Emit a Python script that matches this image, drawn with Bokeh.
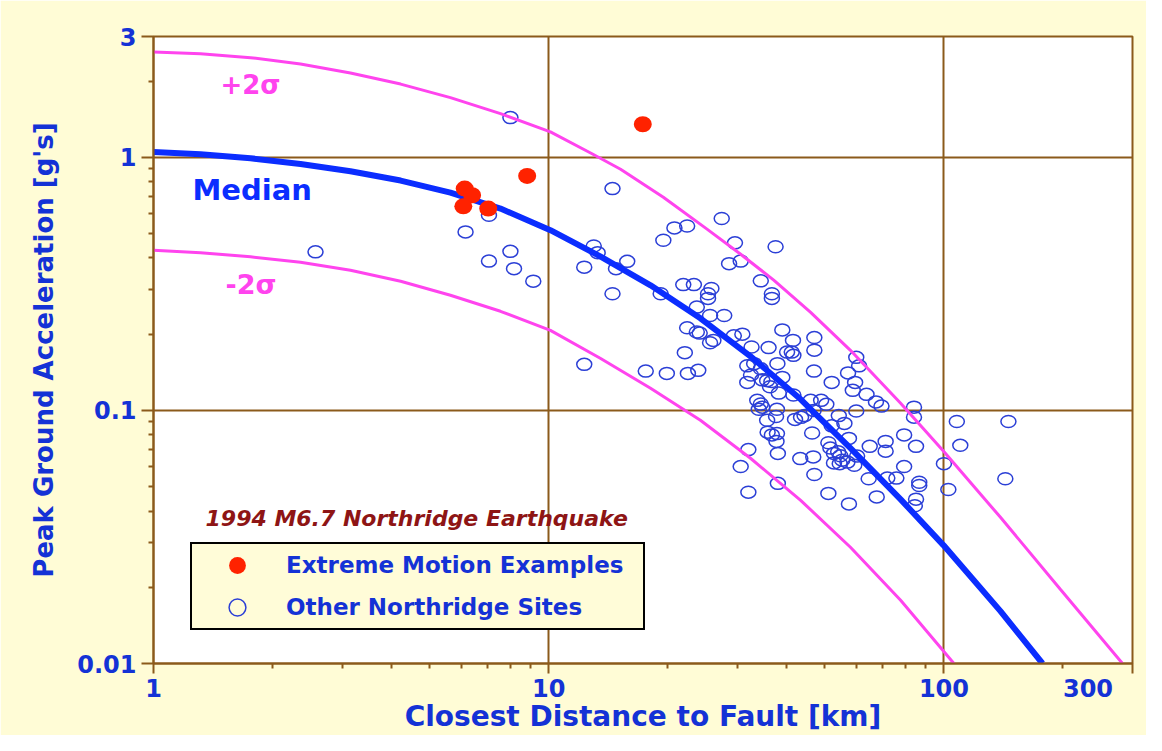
from bokeh.plotting import figure
from bokeh.models import (FixedTicker, Label, Legend, LegendItem,
                          CustomJSTickFormatter)
from bokeh.embed import file_html
from bokeh.resources import INLINE

# ---------------- data ----------------
median_dist = [1.0, 1.315, 1.76, 2.355, 3.15, 4.22, 5.64, 7.55, 10.1, 13.5, 18.1,
               24.2, 32.4, 43.4, 58.0, 77.7, 99.8, 139, 177.6]
median_pga = [1.049, 1.028, 0.991, 0.941, 0.88, 0.809, 0.725, 0.627, 0.515, 0.406, 0.312,
              0.231, 0.1636, 0.1106, 0.0709, 0.0445, 0.0293, 0.0161, 0.010]

plus2_dist = [1.0, 1.315, 1.76, 2.355, 3.15, 4.22, 5.64, 7.55, 10.1, 12.8, 15.2, 19.5,
              25.2, 30.6, 37.1, 46.0, 58.0, 77.7, 99.8, 139, 197, 283]
plus2_pga = [2.606, 2.567, 2.475, 2.334, 2.153, 1.946, 1.72, 1.488, 1.259, 1.037, 0.897, 0.695,
             0.519, 0.414, 0.327, 0.244, 0.1727, 0.1067, 0.0689, 0.0378, 0.01964, 0.010]

minus2_dist = [1.0, 1.315, 1.76, 2.355, 3.15, 4.22, 5.64, 7.55, 10.1, 13.5, 18.1,
               24.2, 32.4, 43.4, 58.0, 77.7, 106]
minus2_pga = [0.429, 0.4195, 0.4044, 0.3847, 0.358, 0.3236, 0.285, 0.2463, 0.207, 0.1606, 0.1223,
              0.0914, 0.0647, 0.0441, 0.0288, 0.01777, 0.010]

extreme_dist = [17.3, 8.82, 6.13, 6.40, 6.08, 7.03]
extreme_pga = [1.35, 0.844, 0.752, 0.708, 0.640, 0.627]

other_dist = [
    2.57, 6.16, 7.06, 8.0, 8.0, 7.06, 8.17, 9.14,
    14.5, 13.0, 13.3, 12.3, 15.8, 14.8, 14.5, 19.2, 19.5, 20.8, 22.4, 21.9, 23.3,
    27.4, 29.6, 28.6, 30.6, 37.5, 34.4, 36.7, 36.7, 25.8, 25.3, 25.3,
    23.7, 25.6, 27.8, 22.4, 23.7, 24.1, 25.6, 26.1, 29.4, 30.9, 22.1,
    12.3, 17.6, 19.9, 22.5, 23.9,
    32.6, 36.0, 39.0, 40.1, 31.8, 33.1, 32.5, 31.8, 34.4, 37.9, 35.7, 38.2,
    33.7, 34.7, 34.4, 35.7, 41.5, 47.0, 47.0, 41.2, 41.6, 46.9, 60.0, 61.0,
    34.7, 36.6, 39.0, 52.0, 57.2, 59.6, 58.8, 63.7, 67.3, 69.5, 84.0, 84.0,
    36.3, 41.6, 46.0, 48.9, 50.4, 34.0, 60.0, 37.6, 42.0, 43.5, 44.4, 46.8,
    54.2, 56.0, 52.0, 46.4, 37.8, 36.7, 37.7, 64.9, 71.2, 71.2, 79.3, 85.0,
    38.0, 43.3, 46.7, 51.6, 52.7, 54.0, 54.7, 55.3, 52.7, 54.5, 57.0, 59.3, 60.3,
    79.3, 47.0, 51.0, 57.5, 67.6, 64.5, 71.9, 75.8, 86.6, 86.6, 85.0, 84.4,
    100, 102.6, 107.8, 110, 145.6, 143,
    32.0, 30.6, 38.0, 32.0, 57.5, 37.8, 51.0, 35.8,
]
other_pga = [
    0.423, 0.507, 0.59, 1.435, 0.425, 0.389, 0.363, 0.324,
    0.752, 0.446, 0.42, 0.368, 0.388, 0.363, 0.289, 0.289, 0.470, 0.526, 0.535, 0.314, 0.314,
    0.573, 0.459, 0.38, 0.389, 0.443, 0.325, 0.289, 0.277, 0.303, 0.289, 0.277,
    0.256, 0.237, 0.237, 0.212, 0.204, 0.202, 0.185, 0.189, 0.197, 0.200, 0.169,
    0.152, 0.143, 0.140, 0.140, 0.144,
    0.178, 0.177, 0.208, 0.170, 0.150, 0.153, 0.138, 0.129, 0.146, 0.153, 0.131, 0.117,
    0.1096, 0.103, 0.106, 0.0914, 0.189, 0.194, 0.173, 0.170, 0.165, 0.143, 0.162, 0.150,
    0.132, 0.130, 0.135, 0.129, 0.1406, 0.129, 0.120, 0.1157, 0.108, 0.104, 0.103, 0.094,
    0.124, 0.115, 0.1096, 0.1096, 0.1057, 0.101, 0.0994, 0.0946, 0.0921, 0.0939, 0.0954, 0.100,
    0.0954, 0.0888, 0.0869, 0.0814, 0.081, 0.080, 0.0754, 0.0721, 0.0754, 0.069, 0.080, 0.0721,
    0.0676, 0.0645, 0.0655, 0.071, 0.0676, 0.0686, 0.0662, 0.0636, 0.062, 0.0616, 0.0625, 0.0607, 0.066,
    0.060, 0.0558, 0.047, 0.0427, 0.0455, 0.0537, 0.054, 0.054, 0.052, 0.0505, 0.0446, 0.042,
    0.0616, 0.0487, 0.0904, 0.0728, 0.0904, 0.0537,
    0.070, 0.060, 0.0515, 0.0475, 0.0775, 0.101, 0.0745, 0.082,
]

x_ticks = [1, 10, 100, 300]
x_minor = [2, 3, 4, 5, 6, 7, 8, 9, 20, 30, 40, 50, 60, 70, 80, 90, 200]
x_edge_tick = 300          # last tick: label padded so it is not cut at the canvas edge
y_ticks = [0.01, 0.1, 1, 3]
y_minor = [0.02, 0.03, 0.04, 0.05, 0.06, 0.07, 0.08, 0.09,
           0.2, 0.3, 0.4, 0.5, 0.6, 0.7, 0.8, 0.9, 2]
x_grid = [10, 100]
y_grid = [0.1, 1]

# ---------------- styles ----------------
YELLOW = "#FFFCD6"
BROWN = "#8B5A1B"
BLUE_TXT = "#1432D6"
MEDIAN_BLUE = "#0B2DFF"
PINK = "#FF44EE"
CIRCLE_BLUE = "#2B3FD6"
RED = "#FF2200"
TITLE_RED = "#8E1515"
FONT = "DejaVu Sans"

p = figure(width=1146, height=735, x_axis_type="log", y_axis_type="log",
           x_range=(1, 300), y_range=(0.01, 3),
           output_backend="svg", toolbar_location=None,
           min_border_left=153, min_border_right=14,
           min_border_top=36, min_border_bottom=72)
p.background_fill_color = "white"
p.border_fill_color = YELLOW
p.outline_line_color = BROWN
p.outline_line_width = 2

# grid
p.xgrid.ticker = FixedTicker(ticks=x_grid)
p.ygrid.ticker = FixedTicker(ticks=y_grid)
for g in (p.xgrid[0], p.ygrid[0]):
    g.grid_line_color = BROWN
    g.grid_line_width = 2

# axes
p.xaxis.ticker = FixedTicker(ticks=x_ticks, minor_ticks=x_minor)
p.yaxis.ticker = FixedTicker(ticks=y_ticks, minor_ticks=y_minor)
p.xaxis.formatter = CustomJSTickFormatter(
    args=dict(edge=[x_edge_tick], pad="\u00a0\u00a0\u00a0\u00a0"),
    code="return edge.includes(tick) ? tick.toString() + pad : tick.toString();")
p.yaxis.formatter = CustomJSTickFormatter(code="return tick.toString();")
for ax in (p.xaxis[0], p.yaxis[0]):
    ax.axis_line_color = BROWN
    ax.axis_line_width = 2
    ax.major_tick_line_color = BROWN
    ax.major_tick_line_width = 2
    ax.minor_tick_line_color = BROWN
    ax.minor_tick_line_width = 2
    ax.major_tick_in = 0
    ax.minor_tick_in = 0
    ax.minor_tick_out = 5
    ax.major_label_text_font = FONT
    ax.major_label_text_font_style = "bold"
    ax.major_label_text_font_size = "24px"
    ax.major_label_text_color = BLUE_TXT
    ax.axis_label_text_font = FONT
    ax.axis_label_text_font_style = "bold"
    ax.axis_label_text_color = BLUE_TXT

p.xaxis.axis_label = "Closest Distance to Fault [km]"
p.xaxis.axis_label_text_font_size = "28px"
p.xaxis.major_tick_out = 10
p.xaxis.major_label_standoff = 1
p.xaxis.axis_label_standoff = -6

p.yaxis.axis_label = "Peak Ground Acceleration [g's]"
p.yaxis.axis_label_text_font_size = "26px"
p.yaxis.major_tick_out = 12
p.yaxis.major_label_standoff = 5
p.yaxis.axis_label_standoff = 15

# data marks
p.ellipse(x=other_dist, y=other_pga, width=15, height=12,
          width_units="screen", height_units="screen",
          fill_color=None, line_color=CIRCLE_BLUE, line_width=1.5)
p.line(plus2_dist, plus2_pga, line_color=PINK, line_width=3)
p.line(minus2_dist, minus2_pga, line_color=PINK, line_width=3)
p.line(median_dist, median_pga, line_color=MEDIAN_BLUE, line_width=6)
p.ellipse(x=extreme_dist, y=extreme_pga, width=18, height=16,
          width_units="screen", height_units="screen",
          fill_color=RED, line_color=None)

# legend-only renderers (their single point lies outside the visible ranges)
leg_ext = p.scatter(x=[0.5], y=[100], marker="circle", size=17,
                    fill_color=RED, line_color=None)
leg_oth = p.scatter(x=[0.5], y=[100], marker="circle", size=15,
                    fill_color=None, line_color=CIRCLE_BLUE, line_width=1.5)
legend = Legend(items=[LegendItem(label="Extreme Motion Examples", renderers=[leg_ext]),
                       LegendItem(label="Other Northridge Sites", renderers=[leg_oth])],
                location=(37, 33), margin=0, padding=0, spacing=0,
                glyph_width=90, glyph_height=42, label_height=42,
                label_width=357, label_standoff=4,
                border_line_color="black", border_line_width=2, border_line_alpha=1.0,
                background_fill_color="#FFFCD8", background_fill_alpha=1.0,
                label_text_font=FONT, label_text_font_style="bold",
                label_text_font_size="23px", label_text_color=BLUE_TXT)
p.add_layout(legend)

# text annotations
p.add_layout(Label(x=1.477, y=1.925, text="+2σ", text_font=FONT,
                   text_font_style="bold", text_font_size="26px",
                   text_color=PINK, text_baseline="alphabetic"))
p.add_layout(Label(x=1.255, y=0.741, text="Median", text_font=FONT,
                   text_font_style="bold", text_font_size="29px",
                   text_color=MEDIAN_BLUE, text_baseline="alphabetic"))
p.add_layout(Label(x=1.521, y=0.315, text="-2σ", text_font=FONT,
                   text_font_style="bold", text_font_size="27px",
                   text_color=PINK, text_baseline="alphabetic"))
p.add_layout(Label(x=1.354, y=0.0375, text="1994 M6.7 Northridge Earthquake",
                   text_font=FONT, text_font_style="bold italic",
                   text_font_size="22px", text_color=TITLE_RED,
                   text_baseline="alphabetic"))

open("out.html", "w").write(file_html(p, INLINE))
